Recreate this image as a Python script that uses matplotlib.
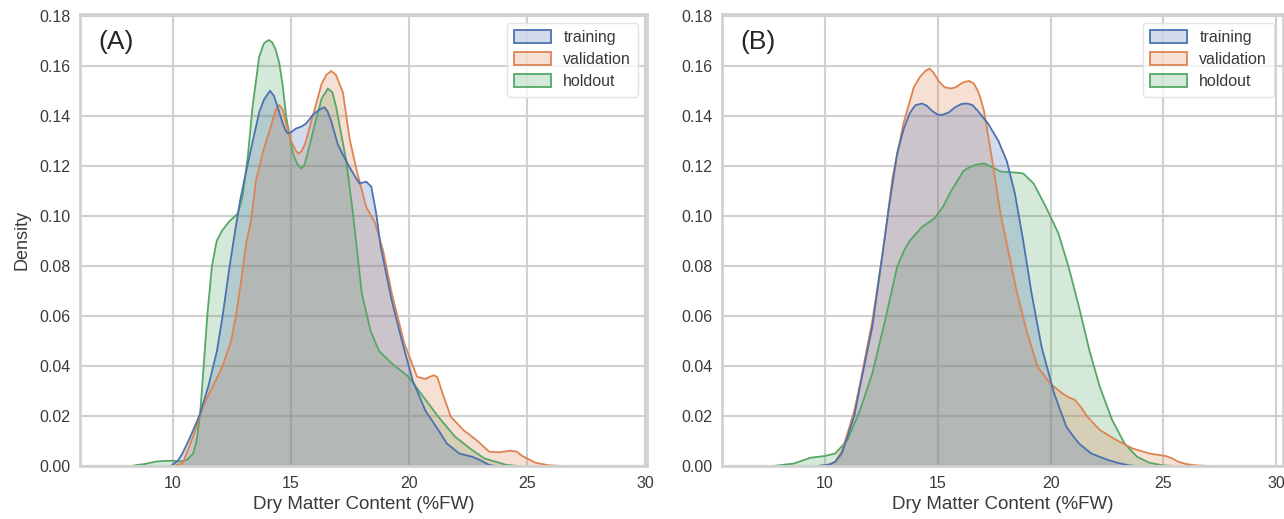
import matplotlib
matplotlib.use("Agg")
import matplotlib.pyplot as plt
from matplotlib.patches import Patch

plt.rcParams['font.family'] = ['Liberation Sans', 'DejaVu Sans']

# ---------------- data ----------------
series_names = ["training", "validation", "holdout"]
colors = ["#4c72b0", "#dd8452", "#55a868"]

# Panel A
a_train_x = [9.9, 10.2, 10.4, 10.7, 11.0, 11.15, 11.5, 11.86, 12.1, 12.4, 12.63, 12.84, 12.99, 13.23,
             13.45, 13.65, 13.85, 14.11, 14.28, 14.43, 14.65, 14.79, 14.86, 15.0, 15.21, 15.45, 15.64,
             15.92, 16.1, 16.28, 16.42, 16.55, 16.7, 16.98, 17.2, 17.48, 17.7, 17.9, 18.05, 18.19,
             18.4, 18.61, 18.8, 19.05, 19.27, 19.7, 20.16, 20.7, 21.24, 21.6, 22.13, 22.67, 23.0,
             23.4, 23.7]
a_train_y = [0.0, 0.002, 0.005, 0.011, 0.0175, 0.021, 0.032, 0.046, 0.060, 0.080, 0.094, 0.106,
             0.113, 0.1235, 0.133, 0.1414, 0.1465, 0.1501, 0.148, 0.1437, 0.137, 0.1338, 0.1331,
             0.1335, 0.135, 0.1358, 0.137, 0.1404, 0.1418, 0.143, 0.1435, 0.1418, 0.138, 0.1287,
             0.1245, 0.1195, 0.116, 0.113, 0.1134, 0.1137, 0.1117, 0.101, 0.0876, 0.076, 0.066, 0.050,
             0.034, 0.022, 0.0144, 0.009, 0.005, 0.0037, 0.0024, 0.0004, 0.0]

a_val_x = [10.0, 10.4, 10.7, 11.0, 11.27, 11.56, 11.8, 12.1, 12.46, 12.7, 12.9, 13.1, 13.3, 13.51,
           13.8, 14.15, 14.35, 14.5, 14.65, 14.8, 15.0, 15.2, 15.31, 15.45, 15.6, 15.95, 16.3, 16.5,
           16.7, 16.9, 17.2, 17.48, 17.76, 18.19, 18.55, 18.9, 19.27, 19.8, 20.34, 20.7,
           20.9, 21.06, 21.2, 21.42, 21.77, 22.3, 22.85, 23.4, 23.84, 24.28, 24.55, 24.8, 25.36,
           25.9, 26.5]
a_val_y = [0.0, 0.001, 0.008, 0.0157, 0.0236, 0.0295, 0.034, 0.040, 0.050, 0.062, 0.075, 0.089,
           0.098, 0.114, 0.1253, 0.136, 0.1425, 0.1444, 0.1425, 0.1365, 0.130, 0.1262, 0.125, 0.126,
           0.129, 0.141, 0.153, 0.1565, 0.158, 0.1565, 0.1493, 0.131, 0.119, 0.1035, 0.0975,
           0.0862, 0.069, 0.049, 0.0357, 0.0348, 0.0358, 0.0363, 0.0355, 0.029, 0.0197, 0.0144,
           0.0104, 0.0057, 0.0055, 0.0061, 0.0058, 0.004, 0.0013, 0.0003, 0.0]

a_hold_x = [8.2, 8.8, 9.3, 9.6, 10.0, 10.3, 10.6, 10.85, 11.0, 11.15, 11.3, 11.45, 11.65, 11.85,
            12.07, 12.4, 12.75, 12.95, 13.17, 13.37, 13.65, 13.85, 14.05, 14.2, 14.35, 14.5,
            14.65, 14.79, 15.07, 15.25, 15.43, 15.57, 15.71, 16.06, 16.3, 16.56, 16.75, 16.91, 17.34,
            17.62, 18.0, 18.37, 18.73, 19.27, 19.98, 20.5, 21.24, 21.95, 22.67, 23.2, 24.1, 24.6]
a_hold_y = [0.0, 0.0008, 0.0018, 0.002, 0.0021, 0.0018, 0.0025, 0.005, 0.01, 0.021, 0.040, 0.060,
            0.080, 0.090, 0.094, 0.098, 0.101, 0.108, 0.124, 0.1437, 0.1637, 0.169, 0.1704,
            0.1695, 0.1665, 0.1613, 0.152, 0.140, 0.1253, 0.121, 0.119, 0.1205, 0.1253, 0.1387,
            0.147, 0.151, 0.1495, 0.1437, 0.122, 0.1013, 0.069, 0.054, 0.046, 0.041, 0.0357, 0.029,
            0.0197, 0.0117, 0.0064, 0.003, 0.0005, 0.0]

# Panel B
b_train_x = [9.7, 10.2, 10.46, 10.75, 11.0, 11.3, 11.56, 12.1, 12.47, 12.84, 13.2, 13.5, 13.75,
             14.0, 14.3, 14.5, 14.76, 15.0, 15.22, 15.5, 15.77, 16.05, 16.32, 16.55, 16.78, 17.0,
             17.23, 17.69, 18.06, 18.42, 18.79, 19.16, 19.6, 20.16, 20.7, 21.0, 21.26, 21.8, 22.55,
             23.0, 23.46, 23.8]
b_train_y = [0.0, 0.0006, 0.0017, 0.005, 0.0117, 0.020, 0.032, 0.0556, 0.0796, 0.1035, 0.125,
             0.135, 0.141, 0.1443, 0.145, 0.1442, 0.142, 0.1405, 0.1405, 0.1415, 0.1435, 0.1448,
             0.145, 0.1443, 0.142, 0.1395, 0.137, 0.130, 0.122, 0.109, 0.090, 0.069, 0.0477, 0.029,
             0.0157, 0.012, 0.009, 0.005, 0.0024, 0.0012, 0.0003, 0.0]

b_val_x = [9.7, 10.2, 10.46, 10.75, 11.0, 11.3, 11.56, 12.1, 12.56, 13.0, 13.48, 13.94, 14.2,
           14.45, 14.63, 14.8, 15.04, 15.3, 15.59, 15.8, 16.04, 16.2, 16.4, 16.6, 16.78, 16.9,
           17.05, 17.42, 17.78, 18.15, 18.52, 18.97, 19.43, 19.98, 20.53, 20.8, 21.08, 21.35,
           21.63, 22.18, 22.91, 23.64, 24.38, 25.1, 25.4, 25.66, 26.0, 26.4, 27.0]
b_val_y = [0.0, 0.0006, 0.0017, 0.006, 0.013, 0.022, 0.033, 0.058, 0.085, 0.1155, 0.137, 0.1515,
           0.1555, 0.158, 0.159, 0.1575, 0.154, 0.1515, 0.151, 0.1515, 0.153, 0.1537, 0.154, 0.153,
           0.150, 0.147, 0.142, 0.122, 0.101, 0.085, 0.069, 0.053, 0.0397, 0.033, 0.029, 0.0275,
           0.0264, 0.0235, 0.0197, 0.0144, 0.0104, 0.007, 0.005, 0.004, 0.003, 0.0017, 0.0008,
           0.0003, 0.0]

b_hold_x = [7.7, 8.63, 9.36, 10.0, 10.46, 11.0, 11.56, 12.1, 12.66, 13.2, 13.5, 13.75, 14.3, 14.85,
            15.22, 15.59, 16.14, 16.4, 16.68, 17.05, 17.42, 17.78, 18.24, 18.55, 18.79, 19.25,
            19.8, 20.35, 20.8, 21.26, 21.72, 22.18, 22.73, 23.28, 23.83, 24.38, 24.93, 25.4]
b_hold_y = [0.0, 0.001, 0.0033, 0.004, 0.005, 0.0104, 0.0224, 0.037, 0.058, 0.0796, 0.086, 0.090,
            0.0956, 0.099, 0.1035, 0.110, 0.118, 0.1195, 0.1205, 0.121, 0.1195, 0.1178, 0.1175,
            0.1173, 0.117, 0.113, 0.1035, 0.093, 0.0796, 0.0636, 0.0463, 0.0317, 0.0184, 0.009,
            0.0037, 0.0013, 0.0003, 0.0]

panel_labels = ["(A)", "(B)"]
x_label = "Dry Matter Content (%FW)"
y_label = "Density"
y_ticks = [0.00, 0.02, 0.04, 0.06, 0.08, 0.10, 0.12, 0.14, 0.16, 0.18]
x_ticks = [10, 15, 20, 25, 30]

panels = [
    [(a_train_x, a_train_y), (a_val_x, a_val_y), (a_hold_x, a_hold_y)],
    [(b_train_x, b_train_y), (b_val_x, b_val_y), (b_hold_x, b_hold_y)],
]
xlims = [(6.06, 30.08), (5.44, 30.3)]

# ---------------- figure ----------------
fig = plt.figure(figsize=(12.84, 5.19), dpi=100)
ax_pos = [[80 / 1284, 53 / 519, 567 / 1284, 452 / 519],
          [722 / 1284, 53 / 519, 561 / 1284, 452 / 519]]

text_color = "#3a3a3a"
grid_color = "#d0d0d0"

for i, (pos, curves) in enumerate(zip(ax_pos, panels)):
    ax = fig.add_axes(pos)
    ax.set_facecolor("white")
    ax.set_axisbelow(True)
    ax.grid(True, color=grid_color, linewidth=1.5)
    for sp in ax.spines.values():
        sp.set_color("#d2d2d2")
        sp.set_linewidth(2.0)
    # seaborn draws hue levels in reverse order (first level on top)
    for (xs, ys), c in reversed(list(zip(curves, colors))):
        ax.fill_between(xs, ys, 0, facecolor=c, alpha=0.25, linewidth=0)
        ax.plot(xs, ys, color=c, linewidth=1.3)
    ax.set_xlim(*xlims[i])
    ax.set_ylim(0, 0.1808)
    ax.set_yticks(y_ticks)
    ax.set_yticklabels([f"{v:.2f}" for v in y_ticks])
    ax.set_xticks(x_ticks)
    ax.tick_params(axis="both", length=0, labelsize=11.5, colors=text_color, pad=7)
    ax.set_xlabel(x_label, fontsize=13.5, color=text_color, labelpad=4)
    if i == 0:
        ax.set_ylabel(y_label, fontsize=13, color=text_color, labelpad=6)
    ax.text(0.032, 0.938, panel_labels[i], transform=ax.transAxes, fontsize=19,
            color="#262626", ha="left", va="center")
    handles = [Patch(facecolor=matplotlib.colors.to_rgba(c, 0.25), edgecolor=c, linewidth=1.3)
               for c in colors]
    leg = ax.legend(handles, series_names, loc="upper right", fontsize=11.5,
                    handlelength=2.3, handleheight=0.85, borderpad=0.45, labelspacing=0.45,
                    handletextpad=0.8, borderaxespad=0.55, frameon=True, fancybox=True)
    leg.get_frame().set_edgecolor("#dddddd")
    leg.get_frame().set_linewidth(1.0)
    for t in leg.get_texts():
        t.set_color(text_color)

fig.savefig("out.png", dpi=100, facecolor="white")
